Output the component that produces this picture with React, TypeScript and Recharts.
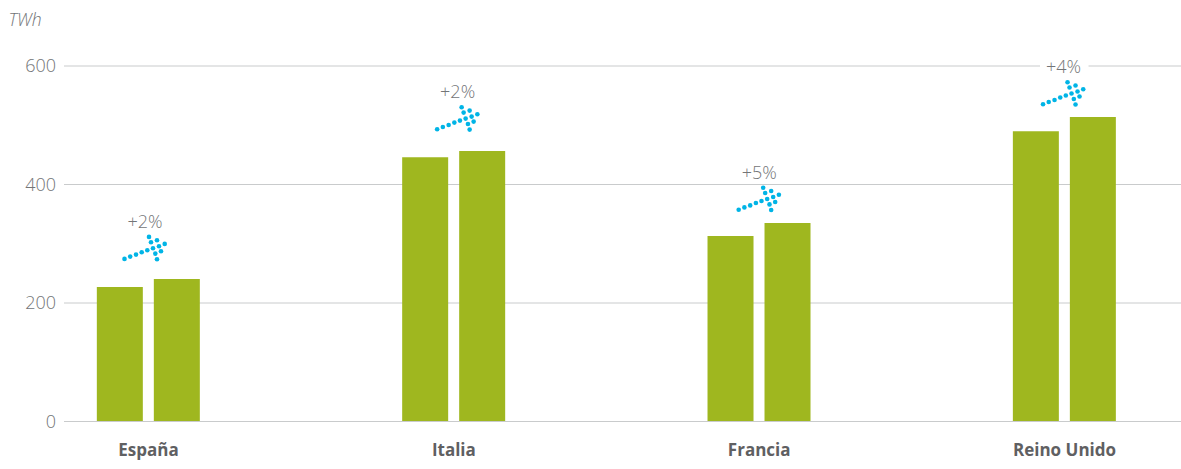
import React from "react";
import { ComposedChart, Bar, Line, XAxis, YAxis, CartesianGrid } from "recharts";

const categories = ["España", "Italia", "Francia", "Reino Unido"];
const firstYear = [227, 446, 313, 490];
const secondYear = [240.5, 456.5, 335, 514];
const changeLabels = ["+2%", "+2%", "+5%", "+4%"];
const arrowLevels = [293, 511.7, 376, 554];
const yTicks = [0, 200, 400, 600];

const rows = categories.map((name, i) => ({
  name,
  a: firstYear[i],
  b: secondYear[i],
  arrow: arrowLevels[i],
  change: changeLabels[i],
}));

const nudges: Record<string, number> = { "España": 0, "Italia": 7.3, "Francia": 3.5, "Reino Unido": 2.5 };
const shaft = [[-24, 11], [-18.3, 8.7], [-12.5, 6.7], [-6.8, 4.3], [-1.2, 2.3], [4.5, 0.3], [10.5, -1.7], [16.2, -4]];
const head = [[0.5, -11], [2.5, -5.7], [6.8, 5.7], [8.5, 11.3], [8.5, -7.7], [12.5, 3.3]];

const grey = "#737577";

const ArrowDot = (props: any) => {
  const { cx, cy, payload } = props;
  const x = cx + nudges[payload.name];
  return (
    <g>
      <rect x={x - 27} y={cy - 36} width={48.5} height={18} fill="#ffffff" />
      <text x={x - 3.5} y={cy - 20} textAnchor="middle" fontFamily="Open Sans" fontWeight={300} fontSize={18} fill={grey}>{payload.change}</text>
      {[...shaft, ...head].map(([dx, dy], i) => (
        <circle key={i} cx={x + dx} cy={cy + dy} r={2.3} fill="#00b4e6" />
      ))}
    </g>
  );
};

export default function App() {
  return (
    <div style={{ position: "absolute", left: 0, top: 0, width: 1181, height: 469, overflow: "hidden" }}>
      <ComposedChart width={1181} height={469} data={rows} barSize={46} barGap={11} margin={{ top: 66, right: 0, bottom: 0, left: 0 }}>
        <CartesianGrid horizontal vertical={false} stroke="#c9cbcc" strokeWidth={1} />
        <XAxis dataKey="name" height={47.5} padding={{ left: -68.17, right: -36.2 }} tickLine={false} axisLine={{ stroke: "#c9cbcc" }} tickMargin={16}
          tick={{ fontFamily: "Open Sans", fontSize: 17, fontWeight: 700, fill: "#5f6062" }} interval={0} />
        <YAxis width={64} domain={[0, 600]} ticks={yTicks} axisLine={false} tickLine={false} tickMargin={2}
          tick={{ fontFamily: "Open Sans", fontSize: 18, fontWeight: 300, fill: grey }} />
        <Bar dataKey="a" fill="#9fb71f" isAnimationActive={false} />
        <Bar dataKey="b" fill="#9fb71f" isAnimationActive={false} />
        <Line dataKey="arrow" stroke="none" isAnimationActive={false} dot={<ArrowDot />} activeDot={false} />
      </ComposedChart>
      <div style={{ position: "absolute", left: 8.5, top: 7, fontFamily: "Open Sans", fontStyle: "italic", fontWeight: 300, fontSize: 17.5, color: grey, lineHeight: "24px" }}>TWh</div>
    </div>
  );
}
